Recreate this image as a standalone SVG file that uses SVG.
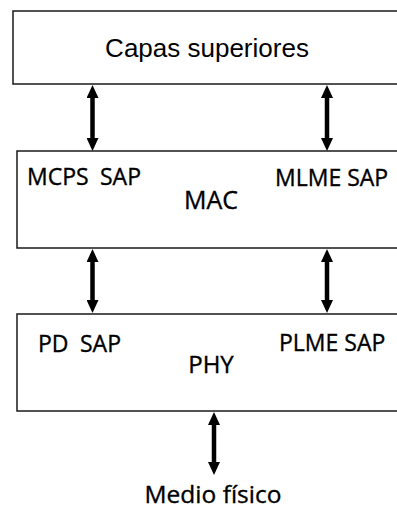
<svg xmlns="http://www.w3.org/2000/svg" width="397" height="511" viewBox="0 0 397 511">
<style>
.box{fill:#fff;stroke:#1a1a1a;stroke-width:1.5}
.arial{font-family:"Liberation Sans",Arial,sans-serif;fill:#000}
.cal{font-family:"Open Sans","Noto Sans",sans-serif;fill:#000;stroke:#000;stroke-width:0.35}
.conn line{stroke:#000;stroke-width:4.5;marker-start:url(#ah);marker-end:url(#ah)}
</style>
<defs>
<marker id="ah" viewBox="0 0 13 12" refX="1" refY="6" markerWidth="13" markerHeight="12" markerUnits="userSpaceOnUse" orient="auto-start-reverse">
<path d="M0,0 L13,6 L0,12 z" fill="#000"/>
</marker>
</defs>
<rect width="397" height="511" fill="#fff"/>
<g id="capas">
<rect class="box" x="13" y="11" width="400" height="73"/>
<text class="arial" x="207" y="57" font-size="26" text-anchor="middle">Capas superiores</text>
</g>
<g id="mac">
<rect class="box" x="17" y="151" width="400" height="97"/>
<text class="cal" x="27" y="185" font-size="23">MCPS</text>
<text class="cal" x="100" y="185" font-size="23">SAP</text>
<text class="cal" x="211" y="209" font-size="25" text-anchor="middle">MAC</text>
<text class="cal" x="275" y="186" font-size="23">MLME SAP</text>
</g>
<g id="phy">
<rect class="box" x="17" y="314" width="400" height="97"/>
<text class="cal" x="38" y="352" font-size="23">PD</text>
<text class="cal" x="80" y="352" font-size="23">SAP</text>
<text class="cal" x="211" y="373" font-size="24" text-anchor="middle">PHY</text>
<text class="cal" x="279" y="351" font-size="23">PLME SAP</text>
</g>
<g id="medio">
<text class="cal" x="213" y="503" font-size="24.5" text-anchor="middle">Medio físico</text>
</g>
<g class="conn" id="connectors">
<line x1="92.5" y1="97" x2="92.5" y2="139"/>
<line x1="327" y1="97" x2="327" y2="139"/>
<line x1="92.5" y1="261" x2="92.5" y2="301"/>
<line x1="327" y1="261" x2="327" y2="301"/>
<line x1="214" y1="424" x2="214" y2="463"/>
</g>
</svg>
